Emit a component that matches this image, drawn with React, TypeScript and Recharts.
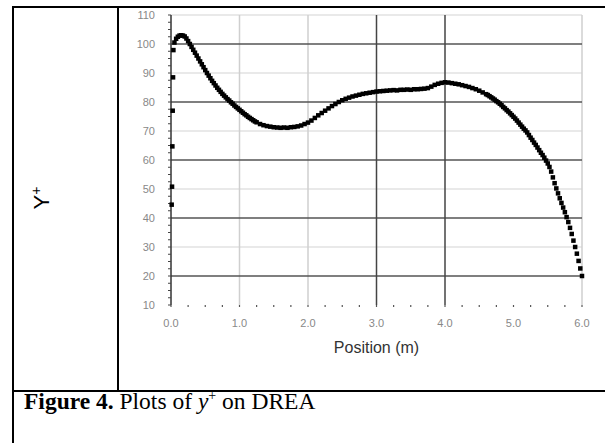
import React from 'react';
import { ScatterChart, Scatter, XAxis, YAxis, ReferenceLine } from 'recharts';

const positionM = [
  0.01, 0.015, 0.02, 0.025, 0.03, 0.035,
  0.05, 0.075, 0.1, 0.125, 0.15, 0.175,
  0.2, 0.225, 0.25, 0.275, 0.3, 0.325, 0.35, 0.375, 0.4, 0.425, 0.45, 0.475,
  0.5, 0.525, 0.55, 0.575, 0.6, 0.625, 0.65, 0.675, 0.7, 0.725, 0.75, 0.775,
  0.8, 0.825, 0.85, 0.875, 0.9, 0.925, 0.95, 0.975, 1.0, 1.025, 1.05, 1.075,
  1.1, 1.125, 1.15, 1.175, 1.2, 1.225, 1.25,
  1.3, 1.35, 1.4, 1.45, 1.5, 1.55, 1.6, 1.65, 1.7, 1.75, 1.8, 1.85, 1.9, 1.95,
  2.0, 2.05, 2.1, 2.15, 2.2, 2.25, 2.3, 2.35, 2.4, 2.45, 2.5, 2.55, 2.6, 2.65, 2.7, 2.75, 2.8, 2.85, 2.9, 2.95,
  3.0, 3.05, 3.1, 3.15, 3.2, 3.25, 3.3, 3.35, 3.4, 3.45, 3.5, 3.55, 3.6, 3.65, 3.7, 3.75, 3.8, 3.85, 3.9, 3.95,
  4.0, 4.05, 4.1, 4.15, 4.2, 4.25, 4.3, 4.35, 4.4, 4.45, 4.5, 4.55,
  4.6, 4.625, 4.65, 4.675, 4.7, 4.725, 4.75, 4.775, 4.8, 4.825, 4.85, 4.875,
  4.9, 4.925, 4.95, 4.975, 5.0, 5.025, 5.05, 5.075, 5.1, 5.125, 5.15, 5.175,
  5.2, 5.225, 5.25, 5.275, 5.3, 5.325, 5.35, 5.375, 5.4, 5.425, 5.45, 5.475,
  5.5, 5.525, 5.55, 5.575, 5.6, 5.625, 5.65, 5.675, 5.7, 5.725, 5.75, 5.775,
  5.8, 5.825, 5.85, 5.875, 5.9, 5.925, 5.95, 5.975, 6.0,
];

const yPlus = [
  44.6, 50.8, 64.7, 77.0, 88.5, 97.9,
  100.5, 101.8, 102.5, 102.9, 103.0, 102.9,
  102.6, 101.9, 101.0, 100.0, 99.0, 98.0, 97.0, 96.0, 95.0, 94.0, 93.0, 92.0,
  91.0, 90.0, 89.1, 88.2, 87.3, 86.5, 85.7, 84.9, 84.2, 83.5, 82.8, 82.2,
  81.6, 81.0, 80.5, 79.9, 79.4, 78.8, 78.3, 77.8, 77.3, 76.8, 76.3, 75.8,
  75.4, 74.9, 74.5, 74.1, 73.7, 73.3, 73.0,
  72.4, 72.0, 71.7, 71.5, 71.3, 71.2, 71.1, 71.2, 71.1, 71.3, 71.4, 71.6, 71.9, 72.4,
  72.9, 73.6, 74.5, 75.4, 76.2, 77.0, 77.8, 78.6, 79.3, 80.0, 80.6, 81.1, 81.5, 81.9, 82.2, 82.5, 82.8, 83.0, 83.2, 83.4,
  83.6, 83.7, 83.8, 83.9, 84.0, 84.1, 84.0, 84.2, 84.2, 84.3, 84.2, 84.4, 84.4, 84.5, 84.6, 84.8, 85.3, 85.9, 86.3, 86.6,
  86.8, 86.7, 86.5, 86.3, 86.1, 85.8, 85.5, 85.2, 84.8, 84.4, 83.9, 83.3,
  82.7, 82.4, 82.0, 81.6, 81.2, 80.8, 80.3, 79.9, 79.4, 78.9, 78.3, 77.8,
  77.2, 76.7, 76.1, 75.5, 74.9, 74.3, 73.6, 72.9, 72.2, 71.5, 70.8, 70.2,
  69.5, 68.6, 67.7, 66.9, 66.0, 65.2, 64.3, 63.4, 62.5, 61.7, 60.8, 59.8,
  58.8, 57.6, 56.0, 54.0, 52.0, 50.2, 48.5, 46.8, 45.2, 43.6, 42.0, 40.3,
  38.6, 36.6, 34.5, 32.2, 30.0, 27.7, 25.2, 22.6, 20.0,
];

const xTicks = [0, 0.25, 0.5, 0.75, 1, 1.25, 1.5, 1.75, 2, 2.25, 2.5, 2.75, 3, 3.25, 3.5, 3.75, 4, 4.25, 4.5, 4.75, 5, 5.25, 5.5, 5.75, 6];
const yTicks = [10, 12.5, 15, 17.5, 20, 22.5, 25, 27.5, 30, 32.5, 35, 37.5, 40, 42.5, 45, 47.5, 50, 52.5, 55, 57.5, 60, 62.5, 65, 67.5, 70, 72.5, 75, 77.5, 80, 82.5, 85, 87.5, 90, 92.5, 95, 97.5, 100, 102.5, 105, 107.5, 110];
const darkGridY = [20, 40, 60, 80, 100];
const lightGridY = [30, 50, 70, 90, 110];
const darkGridX = [3, 4];
const lightGridX = [1, 2, 6];

const points = positionM.map((x, i) => ({ x, y: yPlus[i] }));

const sans = '"Liberation Sans", Arial, sans-serif';
const serif = '"Liberation Serif", "Times New Roman", serif';

const SquareDot = (props: any) => {
  const { cx, cy } = props;
  if (cx == null || cy == null) return null;
  return <rect x={cx - 2.25} y={cy - 2.25} width={4.5} height={4.5} fill="#000" />;
};

export default function App() {
  return (
    <div style={{ position: 'absolute', left: 0, top: 0, width: 605, height: 443, background: '#fff', overflow: 'hidden' }}>
      {/* table borders */}
      <div style={{ position: 'absolute', left: 12, top: 6, width: 600, height: 2, background: '#000' }} />
      <div style={{ position: 'absolute', left: 12, top: 6, width: 2, height: 440, background: '#000' }} />
      <div style={{ position: 'absolute', left: 117, top: 6, width: 2, height: 385, background: '#000' }} />
      <div style={{ position: 'absolute', left: 12, top: 390, width: 600, height: 2, background: '#000' }} />

      <div
        style={{
          position: 'absolute', left: 41, top: 198, transform: 'translate(-50%, -50%) rotate(-90deg)',
          fontFamily: sans, fontSize: 22, lineHeight: 1, color: '#000', whiteSpace: 'nowrap',
        }}
      >
        Y<sup style={{ fontSize: 14 }}>+</sup>
      </div>

      <div style={{ position: 'absolute', left: 119, top: 8 }}>
        <ScatterChart width={486} height={383} margin={{ top: 7, right: 23, bottom: 26, left: 0 }}>
          {lightGridY.map((v) => (
            <ReferenceLine key={'ly' + v} y={v} stroke="#e2e2e2" strokeWidth={1.5} ifOverflow="visible" />
          ))}
          {lightGridX.map((v) => (
            <ReferenceLine key={'lx' + v} x={v} stroke="#cfcfcf" strokeWidth={1.5} ifOverflow="visible" />
          ))}
          {darkGridY.map((v) => (
            <ReferenceLine key={'dy' + v} y={v} stroke="#555" strokeWidth={1.6} ifOverflow="visible" />
          ))}
          {darkGridX.map((v) => (
            <ReferenceLine key={'dx' + v} x={v} stroke="#444" strokeWidth={1.5} ifOverflow="visible" />
          ))}
          <XAxis
            type="number"
            dataKey="x"
            domain={[0, 6]}
            ticks={xTicks}
            interval={0}
            axisLine={false}
            tickLine={{ stroke: '#555', strokeWidth: 1.2 }}
            tickSize={2}
            tickMargin={12}
            height={60}
            tick={{ fill: '#888', fontSize: 11, fontFamily: sans }}
            tickFormatter={(v: number) => (Number.isInteger(v) ? v.toFixed(1) : '')}
            label={{ value: 'Position (m)', position: 'insideBottom', offset: 12, fill: '#333', fontSize: 16, fontFamily: sans }}
          />
          <YAxis
            type="number"
            dataKey="y"
            domain={[10, 110]}
            ticks={yTicks}
            interval={0}
            width={52}
            axisLine={{ stroke: '#333', strokeWidth: 1.5 }}
            tickLine={{ stroke: '#444', strokeWidth: 1 }}
            tickSize={3}
            tickMargin={13}
            tick={{ fill: '#888', fontSize: 11, fontFamily: sans }}
            tickFormatter={(v: number) => (v % 10 === 0 ? String(v) : '')}
          />
          <Scatter data={points} fill="#000" shape={SquareDot} isAnimationActive={false} />
        </ScatterChart>
      </div>

      <div
        style={{
          position: 'absolute', left: 24, top: 389, fontFamily: serif, fontSize: 23.5, lineHeight: 1, color: '#000',
          whiteSpace: 'nowrap',
        }}
      >
        <b>Figure 4.</b> Plots of <i>y</i>
        <sup style={{ fontSize: 14 }}>+</sup> on DREA
      </div>
    </div>
  );
}
